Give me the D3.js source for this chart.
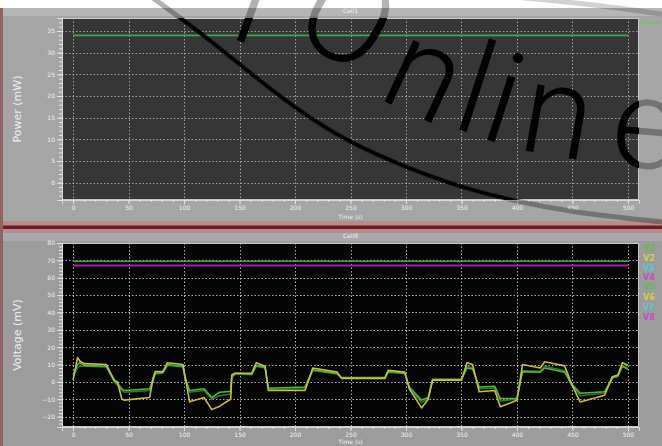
<!DOCTYPE html>
<html>
<head>
<meta charset="utf-8">
<script src="https://cdn.jsdelivr.net/npm/d3@7"></script>
<style>
  html, body { margin: 0; padding: 0; background: #ffffff; }
  svg { display: block; font-family: "DejaVu Sans", "Liberation Sans", sans-serif; }
</style>
</head>
<body>
<svg id="chart" width="662" height="446"></svg>
<script>
// ---- data ----
const timeTicks = [0, 50, 100, 150, 200, 250, 300, 350, 400, 450, 500];
const powerTicks = [0, 5, 10, 15, 20, 25, 30, 35];
const voltageTicks = [-20, -10, 0, 10, 20, 30, 40, 50, 60, 70, 80];

// Cell power (mW)
const powerTime = [0, 500];
const powerValues = [34, 34];

// Supply rails (mV)
const railTime = [0, 500];
const railGreen = [69.5, 69.5];
const railMagenta = [67, 67];

// Cell voltage traces (mV)
const traceTime = [0, 4, 6, 10, 30, 37, 40, 44, 46, 69, 72, 74, 81, 85, 99, 101, 105, 118, 125, 132,
  142, 143, 146, 161, 165, 173, 176, 209, 216, 238, 242, 281, 284, 299, 303, 314, 320, 324, 330, 350,
  355, 360, 366, 380, 385, 400, 405, 421, 425, 443, 449, 457, 479, 486, 491, 495, 500];
const traceYellow = [1, 14, 12, 10.5, 10, 1, 0, -10, -10.5, -9, 2, 6, 6, 11, 10, 3, -11.5, -9, -16, -14,
  -10, 4, 5, 5, 11, 9, -5, -5, 8, 5.6, 2, 2, 6.7, 5.6, -4, -15, -10, 1, 1, 1,
  11, 10, -5.7, -5, -14.4, -10.6, 10, 8, 11.6, 9.2, -1, -11.6, -7.7, 3, 4, 11, 9.6];
const traceGreen = [4, 10, 11, 9.5, 9, 1, -1, -4, -5, -4, 1, 5, 5.5, 10, 9, 2, -5, -4, -9, -6,
  -5.5, 3, 5, 4.5, 9.5, 8.5, -3.7, -3, 7, 4.8, 2.5, 2.5, 6, 5, -3, -10.5, -9, 1.5, 1.5, 1.5,
  8, 7.5, -3, -2.5, -9.6, -9.5, 5.8, 5.6, 8, 5.6, -1, -6.6, -5.7, 2.5, 3.5, 9, 7.2];
const traceDark = [3, 8, 9, 9, 8.5, 0, -2, -5, -6, -5, 0, 4.5, 5, 9.5, 8.5, 1, -6, -5, -10, -8,
  -7, 2, 4.5, 4, 9, 8, -4.5, -4, 6.5, 4.5, 2, 2, 5.5, 4.8, -4, -12, -9.5, 1, 1.2, 1.2,
  9, 8, -4, -3.5, -11, -10, 6.5, 6.2, 9, 6.5, -1.5, -8, -6.5, 2, 3, 9.5, 8];

const powerLegend = ["Power"];
const voltageLegend = ["V1", "V2", "V3", "V4", "V5", "V6", "V7", "V8"];
const voltageLegendColors = ["#5cbf4c", "#d6cc4a", "#56c6d6", "#c54fc8", "#5cbf4c", "#d6cc4a", "#56c6d6", "#c54fc8"];

// ---- layout ----
const svg = d3.select("#chart");
const W = 662, H = 446;
const plotX = [62, 639];
const topPlot = { y0: 18, y1: 200 };
const botPlot = { y0: 243, y1: 427 };

const x = d3.scaleLinear().domain([-10, 510]).range(plotX);
const yP = d3.scaleLinear().domain([-4, 38]).range([topPlot.y1, topPlot.y0]);
const yV = d3.scaleLinear().domain([-26, 80]).range([botPlot.y1, botPlot.y0]);

// window backgrounds
svg.append("rect").attr("x", 0).attr("y", 0).attr("width", W).attr("height", H).attr("fill", "#ffffff");
svg.append("rect").attr("x", 0).attr("y", 8).attr("width", W).attr("height", 214).attr("fill", "#a5a5a5");
svg.append("rect").attr("x", 0).attr("y", 8).attr("width", W).attr("height", 8).attr("fill", "#b6b6b6");
svg.append("rect").attr("x", 0).attr("y", 233).attr("width", W).attr("height", H - 233).attr("fill", "#9c9c9c");
svg.append("rect").attr("x", 0).attr("y", 233).attr("width", W).attr("height", 8).attr("fill", "#a9a9a9");
// separator between the two panels
svg.append("rect").attr("x", 0).attr("y", 221).attr("width", W).attr("height", 12).attr("fill", "#b58d8d");
svg.append("rect").attr("x", 0).attr("y", 225.5).attr("width", W).attr("height", 3.5).attr("fill", "#741c1c");
// left window edge
svg.append("rect").attr("x", 0).attr("y", 8).attr("width", 3).attr("height", H - 8).attr("fill", "#8e6464");

function panel(cfg) {
  const g = svg.append("g");
  const { y, y0, y1, ticks, minor, bg, grid, gridOpacity } = cfg;
  g.append("rect").attr("x", plotX[0]).attr("y", y0).attr("width", plotX[1] - plotX[0]).attr("height", y1 - y0)
    .attr("fill", bg);

  // dotted grid
  g.append("g").selectAll("line").data(ticks).join("line")
    .attr("x1", plotX[0]).attr("x2", plotX[1]).attr("y1", d => Math.round(y(d)) + 0.5).attr("y2", d => Math.round(y(d)) + 0.5)
    .attr("stroke", grid).attr("stroke-opacity", gridOpacity).attr("stroke-dasharray", "1.5,2");
  g.append("g").selectAll("line").data(timeTicks).join("line")
    .attr("y1", y0).attr("y2", y1).attr("x1", d => Math.round(x(d)) + 0.5).attr("x2", d => Math.round(x(d)) + 0.5)
    .attr("stroke", grid).attr("stroke-opacity", gridOpacity).attr("stroke-dasharray", "1.5,2");

  // frame
  g.append("rect").attr("x", plotX[0] + 0.5).attr("y", y0 + 0.5)
    .attr("width", plotX[1] - plotX[0] - 1).attr("height", y1 - y0 - 1)
    .attr("fill", "none").attr("stroke", "#c9c9c9").attr("stroke-width", 1);

  // axes
  g.append("g").attr("transform", `translate(${plotX[0]},0)`)
    .call(d3.axisLeft(y).tickValues(ticks).tickSize(5).tickPadding(2));
  g.append("g").attr("transform", `translate(${plotX[0]},0)`)
    .call(d3.axisLeft(y).tickValues(minor).tickSize(3).tickFormat(""));
  g.append("g").attr("transform", `translate(0,${y1})`)
    .call(d3.axisBottom(x).tickValues(timeTicks).tickSize(4).tickPadding(2));
  g.append("g").attr("transform", `translate(0,${y1})`)
    .call(d3.axisBottom(x).tickValues(d3.range(0, 510, 10)).tickSize(2).tickFormat(""));
  g.selectAll(".domain").attr("stroke", "#d8d8d8");
  g.selectAll(".tick line").attr("stroke", "#e6e6e6");
  g.selectAll(".tick text").attr("fill", "#f2f2f2").attr("font-size", 6)
    .attr("font-family", "DejaVu Sans, sans-serif");
  return g;
}

const minorP = d3.range(-4, 39, 1);
const minorV = d3.range(-26, 81, 2);
panel({ y: yP, y0: topPlot.y0, y1: topPlot.y1, ticks: powerTicks, minor: minorP, bg: "#363636", grid: "#c4c4c4", gridOpacity: 0.75 });
panel({ y: yV, y0: botPlot.y0, y1: botPlot.y1, ticks: voltageTicks, minor: minorV, bg: "#040404", grid: "#d8d8d8", gridOpacity: 0.8 });

// titles and axis labels
function label(txt, cx, cy, size, rot) {
  svg.append("text").attr("x", cx).attr("y", cy).attr("text-anchor", "middle")
    .attr("dominant-baseline", "middle").attr("font-size", size).attr("fill", "#eeeeee")
    .attr("transform", rot ? `rotate(${rot},${cx},${cy})` : null).text(txt);
}
const midX = (plotX[0] + plotX[1]) / 2;
label("Cell1", midX, 11.5, 6);
label("Time (s)", midX, 217, 6);
label("Power (mW)", 18, (topPlot.y0 + topPlot.y1) / 2, 11, -90);
label("Cell8", midX, 236.5, 6);
label("Time (s)", midX, 442, 6);
label("Voltage (mV)", 18, (botPlot.y0 + botPlot.y1) / 2, 11, -90);

// series
function drawLine(ts, vs, y, color, width) {
  const pts = ts.map((t, i) => [t, vs[i]]);
  svg.append("path").datum(pts)
    .attr("fill", "none").attr("stroke", color).attr("stroke-width", width)
    .attr("stroke-linejoin", "round")
    .attr("d", d3.line().x(d => x(d[0])).y(d => y(d[1])));
}
drawLine(powerTime, powerValues, yP, "#47a447", 1.6);
drawLine(railTime, railMagenta, yV, "#a3229f", 2);
drawLine(railTime, railGreen, yV, "#3f9f3f", 1.6);
drawLine(traceTime, traceDark, yV, "#2f7e2c", 1.4);
drawLine(traceTime, traceGreen, yV, "#53b83a", 1.6);
drawLine(traceTime, traceYellow, yV, "#c9bf3a", 1.6);

// legends
svg.append("g").selectAll("text").data(powerLegend).join("text")
  .attr("x", 641).attr("y", 25).attr("font-size", 5.5).attr("font-weight", "bold")
  .attr("fill", "#6cc46c").text(d => d);
svg.append("g").selectAll("text").data(voltageLegend).join("text")
  .attr("x", 643).attr("y", (d, i) => 251 + i * 9.8).attr("font-size", 8).attr("font-weight", "bold")
  .attr("fill", (d, i) => voltageLegendColors[i]).text(d => d);

// overlay lettering and swoosh
const markLetters = [
  { ch: "r", x: 248, y: 44, rot: 20 },
  { ch: "O", x: 326, y: 56, rot: 30 },
  { ch: "n", x: 408, y: 112, rot: 25 },
  { ch: "l", x: 463, y: 131, rot: 18 },
  { ch: "i", x: 491, y: 141, rot: 18 },
  { ch: "n", x: 551, y: 155, rot: 10 },
  { ch: "e", x: 642, y: 168, rot: 5 }
];
const swoosh = [[150, -4], [200, 32], [250, 73], [300, 112], [350, 143], [410, 169], [460, 187], [510, 200], [570, 212], [662, 222]];
const arcTop = [[515, -3], [580, 3], [662, 14]];

const defs = svg.append("defs");
defs.append("clipPath").attr("id", "plotClip").append("rect")
  .attr("x", plotX[0]).attr("y", topPlot.y0).attr("width", plotX[1] - plotX[0]).attr("height", topPlot.y1 - topPlot.y0);

function drawMark(g, opacity, thick) {
  g.selectAll("text").data(markLetters).join("text")
    .attr("x", d => d.x).attr("y", d => d.y).attr("text-anchor", "middle")
    .attr("font-family", "Roboto, sans-serif").attr("font-weight", 300).attr("font-size", 128)
    .attr("fill", "#000").attr("fill-opacity", opacity)
    .attr("transform", d => `rotate(${d.rot},${d.x},${d.y})`).text(d => d.ch);
  g.append("path").attr("d", d3.line().curve(d3.curveBasis)(swoosh))
    .attr("fill", "none").attr("stroke", "#000").attr("stroke-opacity", opacity).attr("stroke-width", thick);
}
const markSoft = svg.append("g");
drawMark(markSoft, 0.3, 5);
markSoft.append("path").attr("d", d3.line().curve(d3.curveBasis)(arcTop))
  .attr("fill", "none").attr("stroke", "#000").attr("stroke-opacity", 0.18).attr("stroke-width", 5);
const markDark = svg.append("g").attr("clip-path", "url(#plotClip)");
drawMark(markDark, 0.95, 3.5);
</script>
</body>
</html>
